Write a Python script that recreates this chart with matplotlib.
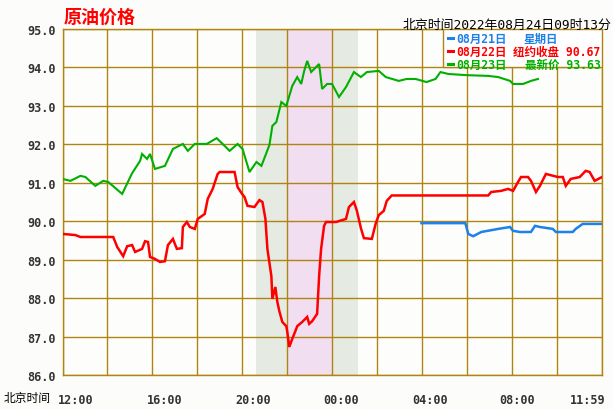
import matplotlib
matplotlib.use('Agg')
import matplotlib.pyplot as plt
from matplotlib.patches import Rectangle
from matplotlib.lines import Line2D
from matplotlib.transforms import ScaledTranslation

# ---------------- data (hours after 12:00 Beijing time, price) ----------------
hours_0821 = [15.97, 17.92, 18.05, 18.27, 18.63, 19.38, 19.91, 20.04, 20.35, 20.84,
              21.02, 21.24, 21.81, 21.95, 22.70, 22.83, 23.14, 24.0]
price_0821 = [89.95, 89.95, 89.67, 89.61, 89.72, 89.80, 89.85, 89.75, 89.72, 89.72,
              89.88, 89.85, 89.80, 89.72, 89.72, 89.80, 89.93, 89.93]

hours_0822 = [0.0, 0.575, 0.796, 2.257, 2.434, 2.699, 2.876, 3.097, 3.230, 3.540,
              3.673, 3.805, 3.894, 4.115, 4.336, 4.558, 4.690, 4.912, 5.088, 5.310,
              5.354, 5.531, 5.664, 5.885, 6.018, 6.327, 6.460, 6.681, 6.903, 6.991,
              7.655, 7.788, 7.965, 8.097, 8.230, 8.540, 8.761, 8.894, 9.027, 9.115,
              9.292, 9.336, 9.469, 9.558, 9.646, 9.779, 9.956, 10.000, 10.088, 10.221,
              10.398, 10.442, 10.664, 10.885, 10.973, 11.106, 11.327, 11.416, 11.504, 11.637,
              11.726, 12.168, 12.611, 12.743, 12.965, 13.097, 13.274, 13.407, 13.761, 13.938,
              14.071, 14.292, 14.425, 14.646, 18.938, 19.071, 19.513, 19.823, 20.044, 20.265,
              20.398, 20.708, 20.841, 21.062, 21.239, 21.504, 22.035, 22.257, 22.389, 22.611,
              23.009, 23.274, 23.451, 23.673, 24.0]
price_0822 = [89.67, 89.64, 89.59, 89.59, 89.33, 89.09, 89.35, 89.38, 89.20, 89.28,
              89.48, 89.46, 89.07, 89.02, 88.94, 88.96, 89.38, 89.54, 89.28, 89.30,
              89.85, 89.98, 89.85, 89.80, 90.06, 90.19, 90.58, 90.84, 91.23, 91.28,
              91.28, 90.89, 90.73, 90.63, 90.40, 90.37, 90.55, 90.50, 90.06, 89.28,
              88.57, 87.98, 88.29, 87.90, 87.66, 87.38, 87.27, 87.12, 86.73, 86.94,
              87.20, 87.27, 87.38, 87.51, 87.33, 87.40, 87.59, 88.57, 89.28, 89.88,
              89.98, 89.98, 90.06, 90.37, 90.50, 90.27, 89.82, 89.56, 89.54, 89.95,
              90.16, 90.27, 90.53, 90.67, 90.67, 90.76, 90.79, 90.84, 90.79, 91.02,
              91.15, 91.15, 91.05, 90.76, 90.92, 91.23, 91.15, 91.15, 90.92, 91.10,
              91.15, 91.31, 91.28, 91.05, 91.15]

hours_0823 = [0.0, 0.354, 0.796, 1.018, 1.460, 1.814, 2.035, 2.655, 3.097, 3.451,
              3.540, 3.761, 3.894, 4.115, 4.558, 4.912, 5.354, 5.575, 5.885, 6.416,
              6.858, 7.124, 7.434, 7.788, 8.009, 8.319, 8.628, 8.850, 9.204, 9.336,
              9.513, 9.735, 9.956, 10.221, 10.442, 10.619, 10.752, 10.885, 11.062, 11.416,
              11.549, 11.770, 11.991, 12.301, 12.611, 12.965, 13.274, 13.540, 14.071, 14.381,
              14.956, 15.310, 15.708, 16.195, 16.593, 16.814, 17.168, 17.965, 18.938, 19.381,
              19.912, 20.044, 20.487, 20.841, 21.15]
price_0823 = [91.10, 91.05, 91.18, 91.15, 90.92, 91.05, 91.02, 90.71, 91.25, 91.57,
              91.75, 91.62, 91.75, 91.36, 91.44, 91.88, 92.01, 91.83, 92.01, 92.01,
              92.16, 92.01, 91.83, 92.01, 91.88, 91.28, 91.54, 91.44, 91.98, 92.48,
              92.58, 93.10, 93.00, 93.52, 93.75, 93.57, 93.91, 94.17, 93.88, 94.09,
              93.44, 93.57, 93.57, 93.23, 93.49, 93.88, 93.75, 93.88, 93.91, 93.75,
              93.65, 93.70, 93.70, 93.62, 93.70, 93.88, 93.83, 93.80, 93.78, 93.75,
              93.65, 93.57, 93.57, 93.65, 93.70]

session_outer = [8.6, 13.15]      # shaded session (hours after 12:00)
session_inner = [10.0, 12.0]      # pink core session

yticks = [86.0, 87.0, 88.0, 89.0, 90.0, 91.0, 92.0, 93.0, 94.0, 95.0]
xgrid_hours = [0, 2, 4, 6, 8, 10, 12, 14, 16, 18, 20, 22, 24]
xtick_hours = [0, 4, 8, 12, 16, 20, 24]
xtick_labels = ['12:00', '16:00', '20:00', '00:00', '04:00', '08:00', '11:59']

title_text = '原油价格'
header_text = '北京时间2022年08月24日09时13分'
xaxis_text = '北京时间'
legend_dates = ['08月21日', '08月22日', '08月23日']
legend_notes = ['星期日', '纽约收盘 90.67', '最新价 93.63']

# ---------------- styling ----------------
W, H = 613, 410
DPI = 100
GOLD = '#b08410'
RED = '#ff0000'
GREEN = '#00b000'
BLUE = '#1e80ea'
TICK_C = '#333333'
MONO = ['DejaVu Sans Mono', 'Noto Sans CJK SC']
CJK = ['Noto Sans CJK SC', 'DejaVu Sans']

fig = plt.figure(figsize=(W / DPI, H / DPI), dpi=DPI)
fig.patch.set_facecolor('#fcfcfa')

L, R, T, B = 62.5, 602, 30, 376
ax = fig.add_axes([L / W, 1 - B / H, (R - L) / W, (B - T) / H])
ax.set_facecolor('#fdfdfb')
ax.set_xlim(0, 24)
ax.set_ylim(86, 95)

# session shading
ax.axvspan(session_outer[0], session_outer[1], color='#e5ebe3', lw=0, zorder=0)
ax.axvspan(session_inner[0], session_inner[1], color='#f1def1', lw=0, zorder=0)

# grid
for yv in yticks:
    ax.axhline(yv, color=GOLD, lw=1.0, zorder=1)
for xv in xgrid_hours:
    ax.axvline(xv, color=GOLD, lw=1.0, zorder=1)
for sp in ax.spines.values():
    sp.set_color(GOLD)
    sp.set_linewidth(1.0)

# series
ax.plot(hours_0821, price_0821, color=BLUE, lw=1.8, zorder=3, solid_joinstyle='miter')
ax.plot(hours_0822, price_0822, color=RED, lw=1.8, zorder=3, solid_joinstyle='miter')
ax.plot(hours_0823, price_0823, color=GREEN, lw=1.5, zorder=4, solid_joinstyle='miter')

# y ticks
ax.set_yticks(yticks)
ax.set_yticklabels([f'{v:.1f}' for v in yticks], fontfamily='DejaVu Sans Mono',
                   fontweight='bold', fontsize=8.5, color=TICK_C)
# x ticks
ax.set_xticks(xtick_hours)
ax.set_xticklabels(xtick_labels, fontfamily='DejaVu Sans Mono', fontweight='bold',
                   fontsize=8.5, color=TICK_C)
ax.tick_params(axis='both', length=0)
ax.tick_params(axis='y', pad=5)
ax.tick_params(axis='x', pad=13)
dx_px = [12.8, 12.1, 10.7, 9.2, 7.8, 5.4, -14]
for lab, dx in zip(ax.get_xticklabels(), dx_px):
    lab.set_transform(lab.get_transform() + ScaledTranslation(dx / DPI, 0, fig.dpi_scale_trans))

# legend box
lb_left = 16.93
ax.add_patch(Rectangle((lb_left, 94.0), 24 - lb_left, 1.0, facecolor='white',
                       edgecolor=GOLD, lw=1.0, zorder=5))
row_y = [39, 52.3, 65]
colors = [BLUE, RED, GREEN]
for i in range(3):
    fy = 1 - row_y[i] / H
    fig.add_artist(Line2D([447.5 / W, 453 / W], [fy, fy], color=colors[i], lw=2.2, zorder=6))
    fig.text(456.5 / W, fy, legend_dates[i], color=colors[i], fontsize=8.3, fontweight='bold',
             family=MONO, ha='left', va='center', zorder=6)
    if i == 0:
        fig.text(524 / W, fy, legend_notes[i], color=colors[i], fontsize=8.3,
                 fontweight='bold', family=CJK, ha='left', va='center', zorder=6)
    else:
        fig.text(600.5 / W, fy, legend_notes[i], color=colors[i], fontsize=8.3,
                 fontweight='bold', family=MONO, ha='right', va='center', zorder=6)

# titles
fig.text(64 / W, 1 - 17.5 / H, title_text, color=RED, fontsize=13, fontweight='bold',
         family=CJK, ha='left', va='center')
fig.text(611 / W, 1 - 25.5 / H, header_text, color='black', fontsize=9.3,
         family=MONO, ha='right', va='center')
fig.text(3.5 / W, 1 - 398.5 / H, xaxis_text, color='black', fontsize=8.5,
         family=CJK, ha='left', va='center')

fig.savefig('out.png', dpi=DPI, facecolor=fig.get_facecolor())
